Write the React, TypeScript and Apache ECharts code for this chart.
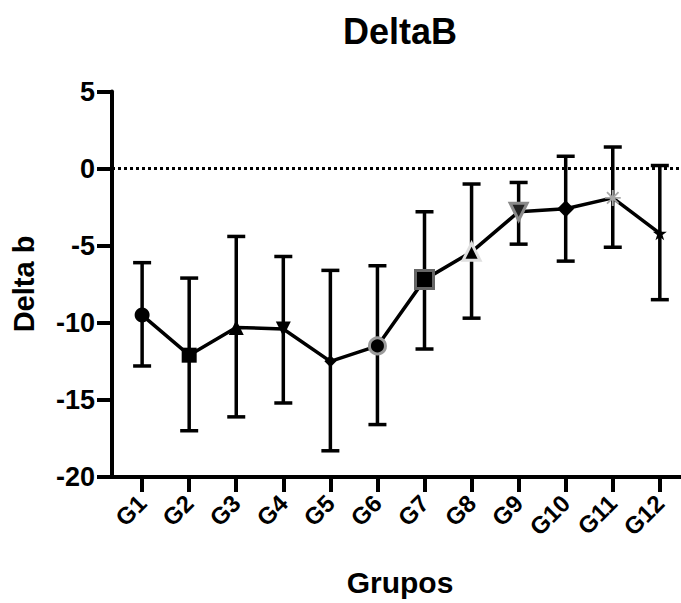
import React, { useEffect, useRef } from "react";
import * as echarts from "echarts";

const categories = ["G1", "G2", "G3", "G4", "G5", "G6", "G7", "G8", "G9", "G10", "G11", "G12"];
const means = [-9.5, -12.1, -10.3, -10.4, -12.5, -11.5, -7.2, -5.4, -2.8, -2.6, -1.9, -4.2];
const upper = [-6.1, -7.1, -4.4, -5.7, -6.6, -6.3, -2.8, -1.0, -0.9, 0.8, 1.4, 0.2];
const lower = [-12.8, -17.0, -16.1, -15.2, -18.3, -16.6, -11.7, -9.7, -4.9, -6.0, -5.1, -8.5];
const yTicks = [-20, -15, -10, -5, 0, 5];

const STAR = "path://M50,0 L61.8,35.1 L98.9,35.1 L68.9,56.7 L80.3,91.9 L50,70 L19.7,91.9 L31.1,56.7 L1.1,35.1 L38.2,35.1 Z";
const ASTER = "path://M44,0 L56,0 L56,36 L82,10 L90,18 L64,44 L100,44 L100,56 L64,56 L90,82 L82,90 L56,64 L56,100 L44,100 L44,64 L18,90 L10,82 L36,56 L0,56 L0,44 L36,44 L10,18 L18,10 L44,36 Z";

const markerStyles: any[] = [
  { symbol: "circle", symbolSize: 15, itemStyle: { color: "#000" } },
  { symbol: "rect", symbolSize: 15, itemStyle: { color: "#000" } },
  { symbol: "triangle", symbolSize: 15, itemStyle: { color: "#000" } },
  { symbol: "triangle", symbolSize: 15, symbolRotate: 180, itemStyle: { color: "#000" } },
  { symbol: "diamond", symbolSize: 12, itemStyle: { color: "#000" } },
  { symbol: "circle", symbolSize: 16, itemStyle: { color: "#000", borderColor: "#9a9a9a", borderWidth: 3 } },
  { symbol: "rect", symbolSize: 18, itemStyle: { color: "#000", borderColor: "#666", borderWidth: 3 } },
  { symbol: "triangle", symbolSize: 17, itemStyle: { color: "#000", borderColor: "#e0e0e0", borderWidth: 3 } },
  { symbol: "triangle", symbolSize: 17, symbolRotate: 180, itemStyle: { color: "#222", borderColor: "#8a8a8a", borderWidth: 3 } },
  { symbol: "diamond", symbolSize: 17, itemStyle: { color: "#000" } },
  { symbol: ASTER, symbolSize: 16, itemStyle: { color: "#a8a8a8" } },
  { symbol: STAR, symbolSize: 14, itemStyle: { color: "#000" } },
];

const FONT = "'Liberation Sans', Arial, Helvetica, sans-serif";
const TITLE = "DeltaB";
const X_NAME = "Grupos";
const Y_NAME = "Delta b";

export default function App() {
  const ref = useRef<HTMLDivElement>(null);
  useEffect(() => {
    if (!ref.current) return;
    const chart = echarts.init(ref.current, null, { renderer: "svg" });
    const xVals = categories.map((_, i) => i + 1);
    const errData = categories.map((_, i) => [i + 1, lower[i], upper[i]]);
    const lineData = categories.map((_, i) => ({ value: [i + 1, means[i]], ...markerStyles[i] }));

    chart.setOption({
      animation: false,
      backgroundColor: "#fff",
      graphic: [
        {
          type: "text",
          x: 400,
          y: 31,
          style: { text: TITLE, font: `bold 36px ${FONT}`, fill: "#000", textAlign: "center", textVerticalAlign: "middle" },
        },
        {
          type: "text",
          x: 400,
          y: 582,
          style: { text: X_NAME, font: `bold 30px ${FONT}`, fill: "#000", textAlign: "center", textVerticalAlign: "middle" },
        },
        {
          type: "text",
          x: 24,
          y: 284,
          rotation: Math.PI / 2,
          style: { text: Y_NAME, font: `bold 29px ${FONT}`, fill: "#000", textAlign: "center", textVerticalAlign: "middle" },
        },
      ],
      grid: { left: 112, right: 0, top: 91.5, bottom: 126, containLabel: false, outerBoundsMode: "none" },
      xAxis: {
        type: "value",
        min: 0.36,
        max: 12.45,
        axisLine: { show: true, onZero: false, lineStyle: { color: "#000", width: 4 } },
        axisTick: { show: true, customValues: xVals, length: 15, lineStyle: { color: "#000", width: 4 } },
        axisLabel: {
          customValues: xVals,
          rotate: 45,
          margin: 22,
          fontFamily: FONT,
          fontWeight: "bold",
          fontSize: 24,
          color: "#000",
          formatter: (v: number) => categories[Math.round(v) - 1] ?? "",
        },
        splitLine: { show: false },
      },
      yAxis: {
        type: "value",
        min: yTicks[0],
        max: yTicks[yTicks.length - 1],
        interval: 5,
        axisLine: { show: true, onZero: false, lineStyle: { color: "#000", width: 4 } },
        axisTick: { show: true, length: 15, lineStyle: { color: "#000", width: 4 } },
        axisLabel: { margin: 17, fontFamily: FONT, fontWeight: "bold", fontSize: 27, color: "#000" },
        splitLine: { show: false },
      },
      series: [
        {
          type: "custom",
          data: errData,
          z: 2,
          renderItem: (params: any, api: any) => {
            const x = api.value(0);
            const lo = api.coord([x, api.value(1)]);
            const hi = api.coord([x, api.value(2)]);
            const hw = 9;
            const st = { stroke: "#000", lineWidth: 3.5 };
            return {
              type: "group",
              children: [
                { type: "line", shape: { x1: lo[0], y1: lo[1], x2: hi[0], y2: hi[1] }, style: st },
                { type: "line", shape: { x1: hi[0] - hw, y1: hi[1], x2: hi[0] + hw, y2: hi[1] }, style: st },
                { type: "line", shape: { x1: lo[0] - hw, y1: lo[1], x2: lo[0] + hw, y2: lo[1] }, style: st },
              ],
            };
          },
        },
        {
          type: "line",
          data: lineData,
          z: 3,
          lineStyle: { color: "#000", width: 3.5 },
          markLine: {
            silent: true,
            symbol: ["none", "none"],
            label: { show: false },
            lineStyle: { color: "#000", width: 3, type: [3, 3] },
            data: [{ yAxis: 0 }],
          },
        },
      ],
    });
    return () => chart.dispose();
  }, []);
  return <div ref={ref} style={{ width: 681, height: 603, position: "absolute", left: 0, top: 0 }} />;
}
